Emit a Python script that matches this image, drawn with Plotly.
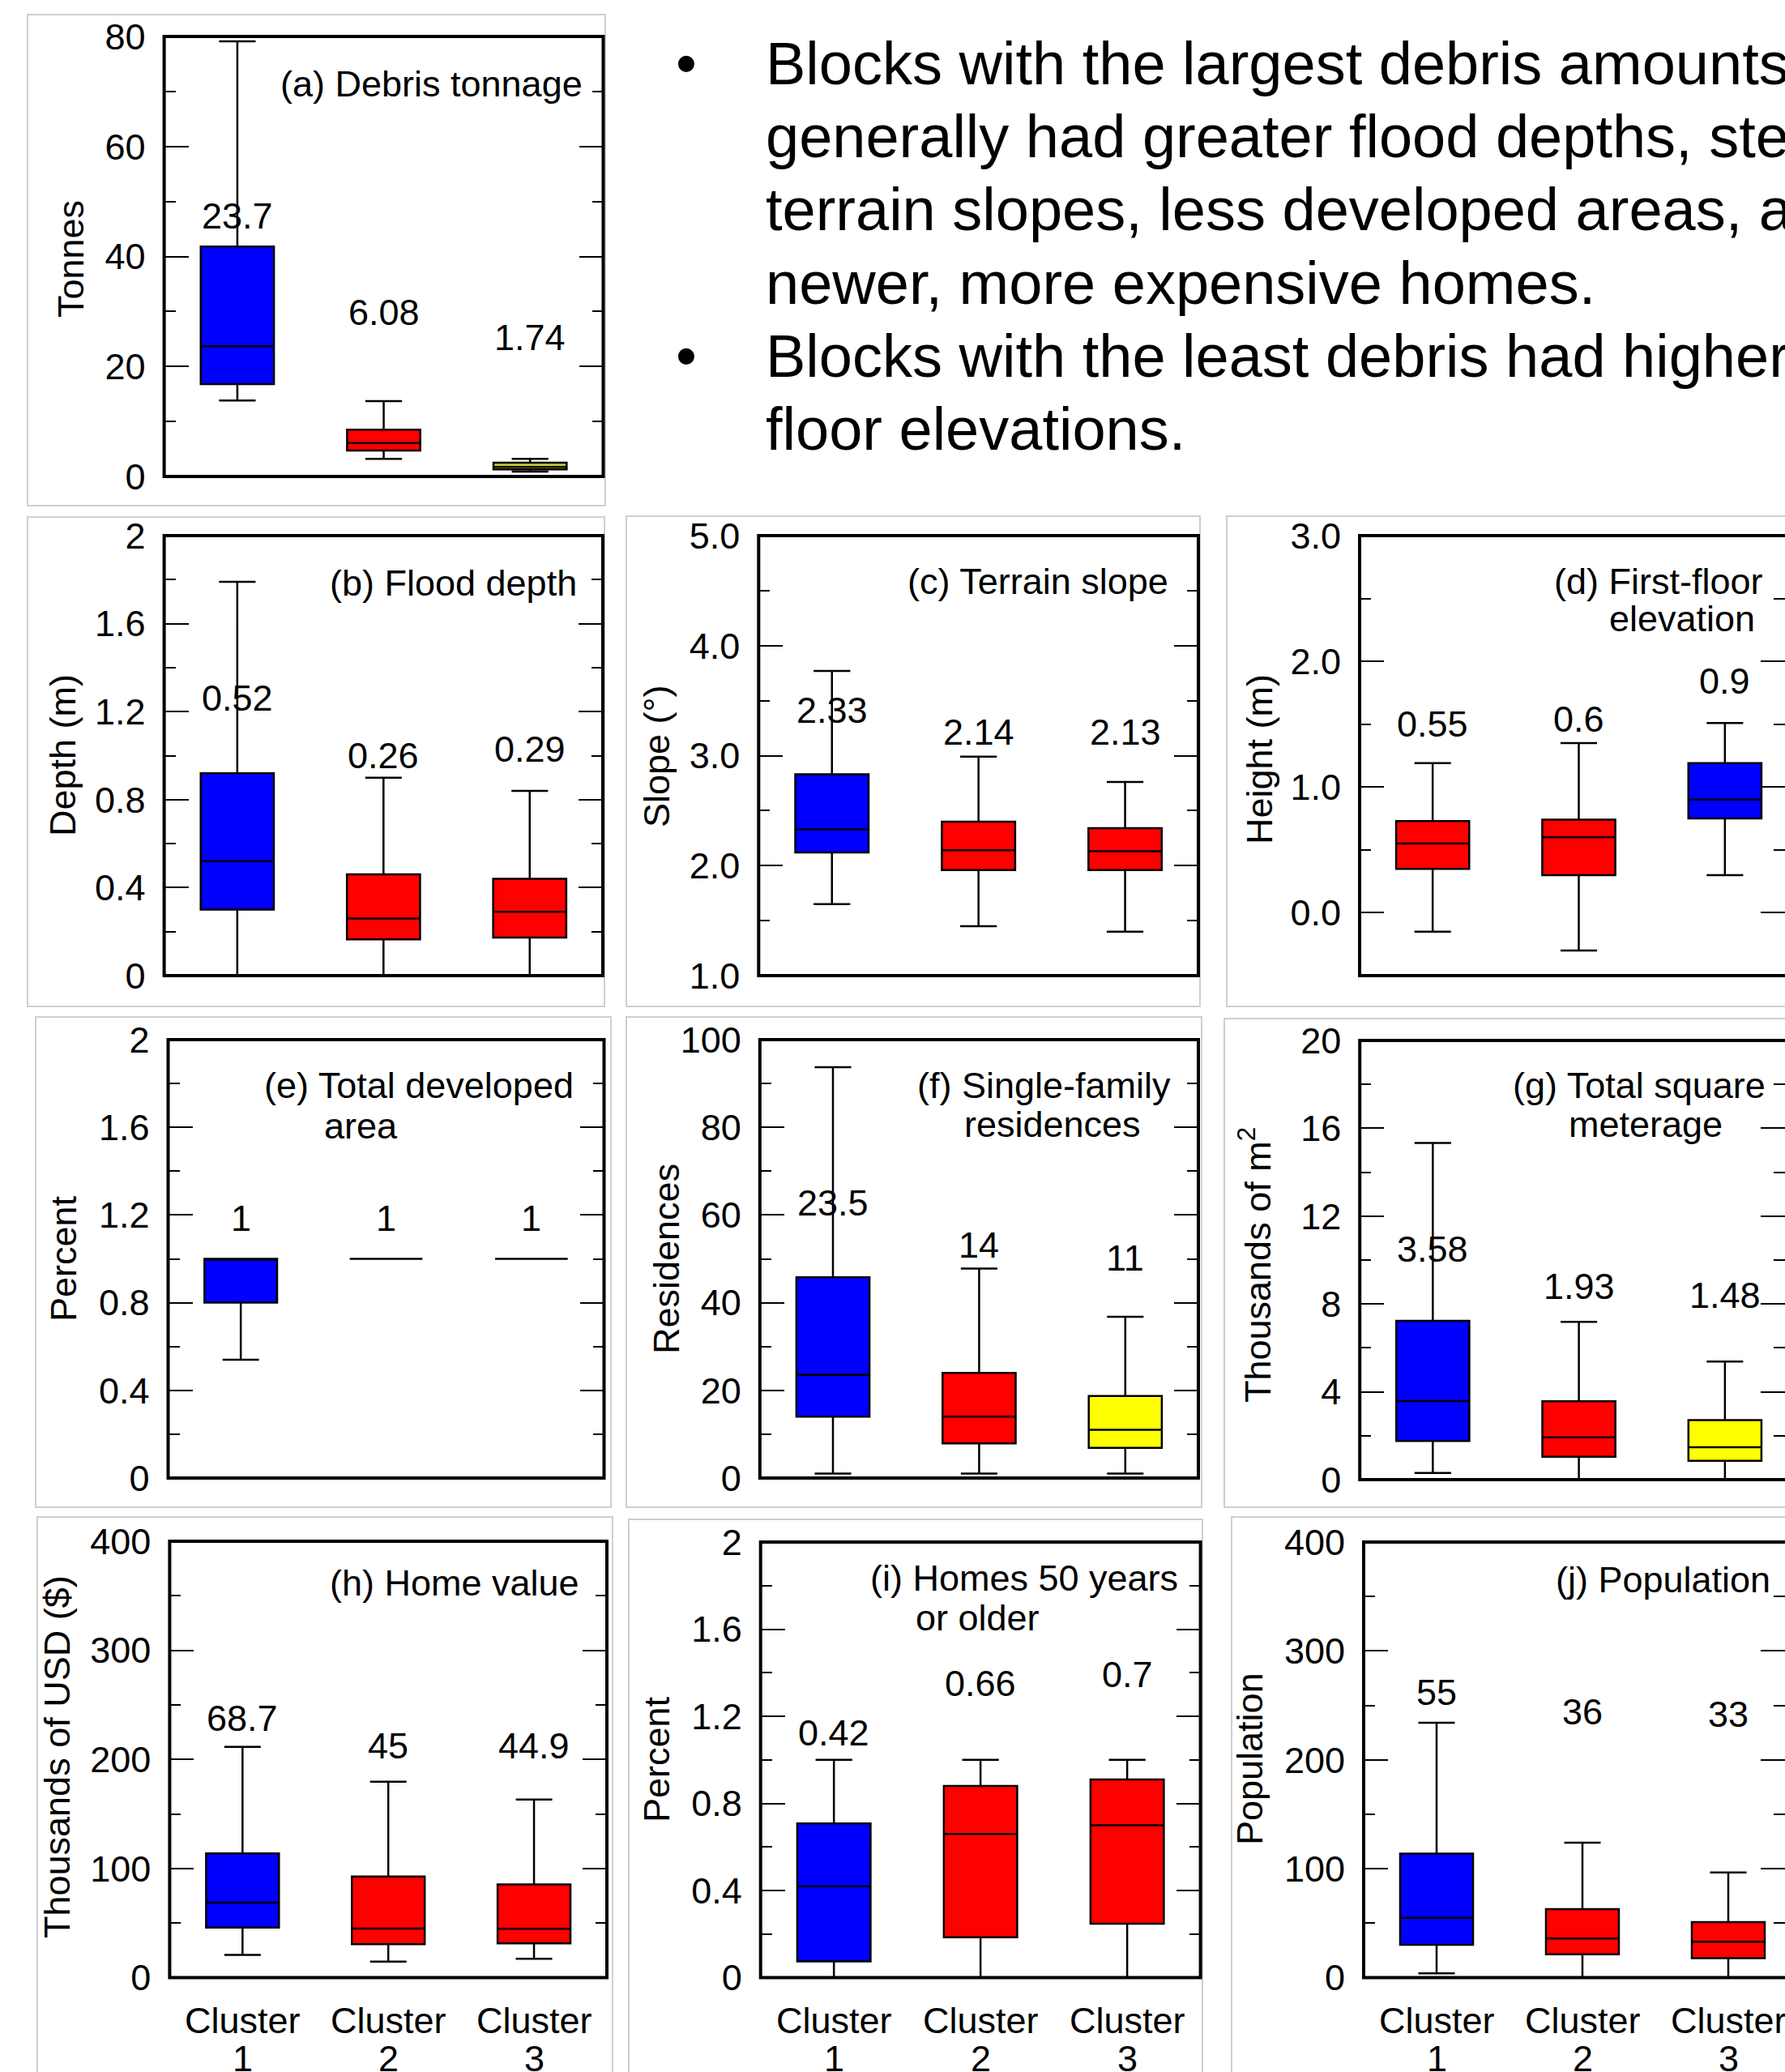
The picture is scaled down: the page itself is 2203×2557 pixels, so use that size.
import plotly.graph_objects as go

W, H = 2203, 2557
FONT = "Liberation Sans, Arial, sans-serif"

CLUSTERS = [1, 2, 3]
CLUSTER_WORD = "Cluster"
CLUSTER_NUMS = ["1", "2", "3"]

# (a) Debris tonnage (tonnes)
debris_lo = [13.8, 3.2, 0.9]
debris_q1 = [16.8, 4.7, 1.3]
debris_med = [23.7, 6.08, 1.74]
debris_q3 = [41.8, 8.5, 2.5]
debris_hi = [79.1, 13.7, 3.2]

# (b) Flood depth (m)
depth_lo = [0.0, 0.0, 0.0]
depth_q1 = [0.30, 0.165, 0.173]
depth_med = [0.52, 0.26, 0.29]
depth_q3 = [0.92, 0.46, 0.44]
depth_hi = [1.79, 0.90, 0.84]

# (c) Terrain slope (deg)
slope_lo = [1.65, 1.45, 1.40]
slope_q1 = [2.12, 1.96, 1.96]
slope_med = [2.33, 2.14, 2.13]
slope_q3 = [2.83, 2.40, 2.34]
slope_hi = [3.77, 2.99, 2.76]

# (d) First-floor elevation (m)
elev_lo = [-0.15, -0.30, 0.30]
elev_q1 = [0.35, 0.30, 0.75]
elev_med = [0.55, 0.6, 0.9]
elev_q3 = [0.73, 0.74, 1.19]
elev_hi = [1.19, 1.35, 1.51]

# (e) Total developed area (percent)
dev_lo = [0.54, 1, 1]
dev_q1 = [0.80, 1, 1]
dev_med = [1, 1, 1]
dev_q3 = [1, 1, 1]
dev_hi = [1, 1, 1]

# (f) Single-family residences
res_lo = [1, 1, 1]
res_q1 = [14.0, 7.9, 6.9]
res_med = [23.5, 14, 11]
res_q3 = [45.8, 24.0, 18.7]
res_hi = [93.7, 47.8, 36.8]

# (g) Total square meterage (thousands of m2)
sqm_lo = [0.3, 0, 0]
sqm_q1 = [1.76, 1.04, 0.86]
sqm_med = [3.58, 1.93, 1.48]
sqm_q3 = [7.23, 3.57, 2.71]
sqm_hi = [15.33, 7.19, 5.38]

# (h) Home value (thousands of USD)
val_lo = [20.8, 14.7, 17.4]
val_q1 = [45.9, 30.8, 31.5]
val_med = [68.7, 45, 44.9]
val_q3 = [113.8, 92.7, 85.4]
val_hi = [211.5, 179.7, 163.3]

# (i) Homes 50 years or older (percent)
old_lo = [0, 0, 0]
old_q1 = [0.075, 0.185, 0.248]
old_med = [0.42, 0.66, 0.7]
old_q3 = [0.708, 0.88, 0.91]
old_hi = [1.0, 1.0, 1.0]

# (j) Population
pop_lo = [4, 0, 0]
pop_q1 = [30.2, 21.5, 18]
pop_med = [55, 36, 33]
pop_q3 = [114, 63, 51]
pop_hi = [234, 124, 96.6]

BULLET_LINES = [
    ["Blocks with the largest debris amounts",
     "generally had greater flood depths, steeper",
     "terrain slopes, less developed areas, and",
     "newer, more expensive homes."],
    ["Blocks with the least debris had higher first-",
     "floor elevations."],
]

BLUE, RED, YEL, YG = "#0000ff", "#ff0000", "#ffff00", "#c2cb3a"

panels = [
    dict(stats=(debris_lo, debris_q1, debris_med, debris_q3, debris_hi), colors=[BLUE, RED, YG],
         frame=(202.6, 45, 744.5, 588), border=(34, 18, 747, 624),
         yrange=[0, 80], dtick=20, minor=10, fmt="", ytitle="Tonnes", ytitle_at=(87, 320),
         titles=[("(a) Debris tonnage", 344, 104)], label_y=[47.3, 29.8, 25.3], xlabels=False),
    dict(stats=(depth_lo, depth_q1, depth_med, depth_q3, depth_hi), colors=[BLUE, RED, RED],
         frame=(202.6, 661, 744, 1204), border=(34, 638, 746, 1242),
         yrange=[0, 2], dtick=0.4, minor=0.2, fmt="", ytitle="Depth (m)", ytitle_at=(78, 932),
         titles=[("(b) Flood depth", 405, 719)], label_y=[1.26, 1.0, 1.03], xlabels=False),
    dict(stats=(slope_lo, slope_q1, slope_med, slope_q3, slope_hi), colors=[BLUE, RED, RED],
         frame=(936.3, 661, 1479, 1204), border=(773, 637, 1481, 1242),
         yrange=[1, 5], dtick=1, minor=0.5, fmt=".1f", ytitle="Slope (°)", ytitle_at=(810, 933),
         titles=[("(c) Terrain slope", 1118, 718)], label_y=[3.41, 3.21, 3.21], xlabels=False),
    dict(stats=(elev_lo, elev_q1, elev_med, elev_q3, elev_hi), colors=[RED, RED, BLUE],
         frame=(1678, 661, 2219, 1204), border=(1514, 637, 2260, 1242),
         yrange=[-0.5, 3], dtick=1, minor=0.5, fmt=".1f", ytitle="Height (m)", ytitle_at=(1554, 937),
         titles=[("(d) First-floor", 1916, 718), ("elevation", 1984, 764)],
         label_y=[1.50, 1.54, 1.84], xlabels=False),
    dict(stats=(dev_lo, dev_q1, dev_med, dev_q3, dev_hi), colors=[BLUE, "white", "white"],
         frame=(207.5, 1283, 745.5, 1824), border=(44, 1255, 754, 1860),
         yrange=[0, 2], dtick=0.4, minor=0.2, fmt="", ytitle="Percent", ytitle_at=(78, 1553),
         titles=[("(e) Total developed", 324, 1339), ("area", 398, 1389)],
         label_y=[1.185, 1.185, 1.185], xlabels=False),
    dict(stats=(res_lo, res_q1, res_med, res_q3, res_hi), colors=[BLUE, RED, YEL],
         frame=(937.8, 1283, 1479, 1824), border=(773, 1255, 1483, 1860),
         yrange=[0, 100], dtick=20, minor=10, fmt="", ytitle="Residences", ytitle_at=(822, 1554),
         titles=[("(f) Single-family", 1130, 1339), ("residences", 1188, 1387)],
         label_y=[62.8, 53.2, 50.2], xlabels=False),
    dict(stats=(sqm_lo, sqm_q1, sqm_med, sqm_q3, sqm_hi), colors=[BLUE, RED, YEL],
         frame=(1678.2, 1284, 2219, 1826), border=(1511, 1257, 2260, 1860),
         yrange=[0, 20], dtick=4, minor=2, fmt="", ytitle="Thousands of m<sup>2</sup>",
         ytitle_at=(1549, 1561),
         titles=[("(g) Total square", 1865, 1339), ("meterage", 1934, 1387)],
         label_y=[10.5, 8.8, 8.4], xlabels=False),
    dict(stats=(val_lo, val_q1, val_med, val_q3, val_hi), colors=[BLUE, RED, RED],
         frame=(209.4, 1902, 749, 2440.6), border=(46, 1872, 756, 2620),
         yrange=[0, 400], dtick=100, minor=50, fmt="", ytitle="Thousands of USD ($)",
         ytitle_at=(70, 2168),
         titles=[("(h) Home value", 405, 1954)], label_y=[237.7, 212.5, 212.5], xlabels=True),
    dict(stats=(old_lo, old_q1, old_med, old_q3, old_hi), colors=[BLUE, RED, RED],
         frame=(938.7, 1903, 1481.6, 2440.6), border=(776, 1875, 1484, 2620),
         yrange=[0, 2], dtick=0.4, minor=0.2, fmt="", ytitle="Percent", ytitle_at=(810, 2171),
         titles=[("(i) Homes 50 years", 1072, 1947), ("or older", 1128, 1996)],
         label_y=[1.124, 1.35, 1.39], xlabels=True),
    dict(stats=(pop_lo, pop_q1, pop_med, pop_q3, pop_hi), colors=[BLUE, RED, RED],
         frame=(1683, 1903, 2223, 2440.6), border=(1520, 1872, 2260, 2620),
         yrange=[0, 400], dtick=100, minor=50, fmt="", ytitle="Population", ytitle_at=(1542, 2171),
         titles=[("(j) Population", 1918, 1949)], label_y=[261.7, 244, 241.6], xlabels=True),
]

XLABEL_LINE_Y = (2493, 2540)  # pixel centres of the two lines of the cluster labels

fig = go.Figure()
layout = dict(width=W, height=H, autosize=False,
              margin=dict(l=0, r=0, t=0, b=0, pad=0, autoexpand=False),
              paper_bgcolor="white", plot_bgcolor="white", showlegend=False,
              boxmode="overlay", font=dict(family=FONT, size=45, color="black"))
annotations = []
shapes = []


def px(x):
    return x / W


def py(y):
    return 1 - y / H


for i, p in enumerate(panels):
    sfx = "" if i == 0 else str(i + 1)
    L, T, R, B = p["frame"]
    Rv = min(R, W)
    lo, q1, med, q3, hi = p["stats"]
    for k in range(3):
        fig.add_trace(go.Box(
            x=[CLUSTERS[k]], lowerfence=[lo[k]], q1=[q1[k]], median=[med[k]],
            q3=[q3[k]], upperfence=[hi[k]], xaxis="x" + sfx, yaxis="y" + sfx,
            fillcolor=p["colors"][k], line=dict(color="black", width=2.5),
            width=0.5, whiskerwidth=0.5, boxpoints=False, hoverinfo="skip",
            showlegend=False))
        annotations.append(dict(
            x=CLUSTERS[k], y=p["label_y"][k], xref="x" + sfx, yref="y" + sfx,
            text=f"{med[k]:g}", showarrow=False, xanchor="center", yanchor="middle",
            font=dict(size=45, family=FONT, color="black")))
        if p["xlabels"]:
            for txt, ly in ((CLUSTER_WORD, XLABEL_LINE_Y[0]), (CLUSTER_NUMS[k], XLABEL_LINE_Y[1])):
                annotations.append(dict(
                    x=CLUSTERS[k], y=py(ly), xref="x" + sfx, yref="paper", text=txt,
                    showarrow=False, xanchor="center", yanchor="middle",
                    font=dict(size=45, family=FONT, color="black")))
    layout["xaxis" + sfx] = dict(
        domain=[px(L), px(Rv)], range=[0.5, 0.5 + 3 * (Rv - L) / (R - L)],
        anchor="y" + sfx, showgrid=False, zeroline=False, showline=False, ticks="",
        showticklabels=False, automargin=False, fixedrange=True)
    layout["yaxis" + sfx] = dict(
        domain=[py(B), py(T)], range=p["yrange"], anchor="x" + sfx,
        showgrid=False, zeroline=False, showline=False, automargin=False,
        ticks="inside", ticklen=30, tickwidth=2, tickcolor="black", mirror="ticks",
        tickmode="linear", tick0=0, dtick=p["dtick"], tickformat=p["fmt"],
        minor=dict(ticks="inside", ticklen=14, tickwidth=2, tickcolor="black", dtick=p["minor"],
                   tick0=0),
        tickfont=dict(size=45, family=FONT, color="black"), ticklabelstandoff=22,
        ticklabeloverflow="allow", fixedrange=True)
    # plot frame
    shapes.append(dict(type="rect", xref="paper", yref="paper", x0=px(L), x1=px(R),
                       y0=py(B), y1=py(T), line=dict(color="black", width=4),
                       fillcolor="rgba(0,0,0,0)", layer="above"))
    # light panel border
    bL, bT, bR, bB = p["border"]
    shapes.append(dict(type="rect", xref="paper", yref="paper", x0=px(bL), x1=px(bR),
                       y0=py(bB), y1=py(bT), line=dict(color="#cfcfcf", width=2),
                       fillcolor="rgba(0,0,0,0)", layer="below"))
    # panel title lines
    for txt, tx, ty in p["titles"]:
        annotations.append(dict(x=px(tx), y=py(ty), xref="paper", yref="paper", text=txt,
                                showarrow=False, xanchor="left", yanchor="middle",
                                font=dict(size=45, family=FONT, color="black")))
    # y axis title
    yx, yy = p["ytitle_at"]
    annotations.append(dict(x=px(yx), y=py(yy), xref="paper", yref="paper", text=p["ytitle"],
                            showarrow=False, textangle=-90, xanchor="center", yanchor="middle",
                            font=dict(size=45, family=FONT, color="black")))

# bullet text block
line_y = 79
for para in BULLET_LINES:
    annotations.append(dict(x=px(847), y=py(line_y), xref="paper", yref="paper", text="•",
                            showarrow=False, xanchor="center", yanchor="middle", borderpad=0,
                            font=dict(size=74, family=FONT, color="black")))
    for ln in para:
        annotations.append(dict(x=px(944), y=py(line_y), xref="paper", yref="paper", text=ln,
                                showarrow=False, xanchor="left", yanchor="middle", borderpad=0,
                                font=dict(size=74, family=FONT, color="black")))
        line_y += 90

layout["annotations"] = annotations
layout["shapes"] = shapes
fig.update_layout(**layout)

fig.write_html("out.html", config={"displayModeBar": False},
               post_script="document.body.style.margin='0';document.body.style.overflow='hidden';")
